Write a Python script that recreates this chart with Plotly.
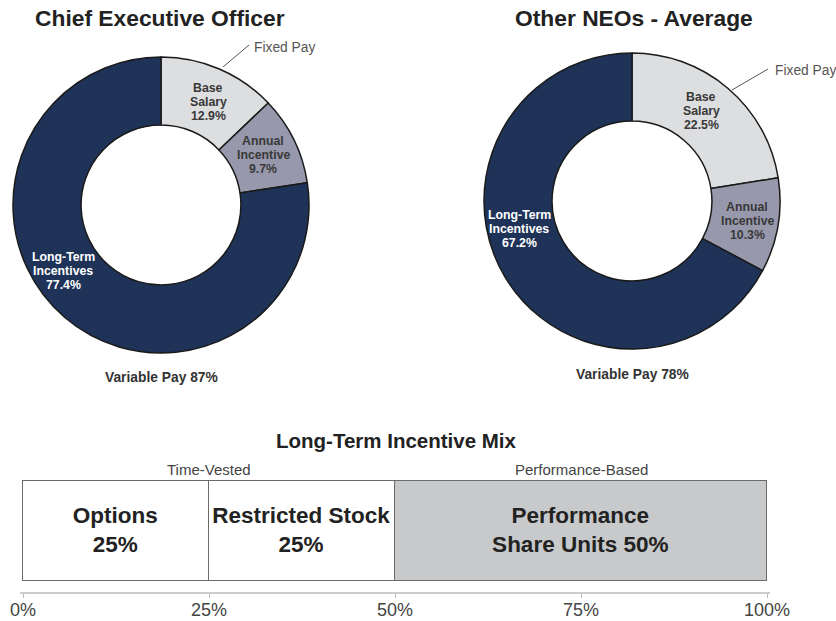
import plotly.graph_objects as go

# ---------------- data ----------------
pie_labels = ["Base Salary", "Annual Incentive", "Long-Term Incentives"]
pie_label_lines = [["Base", "Salary"], ["Annual", "Incentive"], ["Long-Term", "Incentives"]]
ceo_values = [12.9, 9.7, 77.4]
neo_values = [22.5, 10.3, 67.2]
ceo_variable_pay = 87
neo_variable_pay = 78
chart_titles = ["Chief Executive Officer", "Other NEOs - Average"]

lti_labels = ["Options", "Restricted Stock", "Performance<br>Share Units"]
lti_values = [25, 25, 50]
lti_groups = ["Time-Vested", "Performance-Based"]
axis_ticks = [0, 25, 50, 75, 100]

# ---------------- styling ----------------
# body margin is removed in the page (post_script), so the figure fills the window
OFF = 0
W, H = 836, 621
FONT = "Liberation Sans, Arial, Helvetica, sans-serif"
NAVY = "rgb(31,51,89)"
LIGHT = "rgb(221,222,224)"
MID = "rgb(152,152,173)"
PIE_COLORS = [LIGHT, MID, NAVY]
TEXT_COLORS = ["#383838", "#383838", "#ffffff"]


def px(x):
    """screen pixel x -> paper fraction"""
    return (x - OFF) / W


def py(y):
    """screen pixel y -> paper fraction"""
    return 1 - (y - OFF) / H


def note(text, x, y, size, color, bold=False, xanchor="center", xref="paper"):
    return dict(text=f"<b>{text}</b>" if bold else text,
                x=(px(x) if xref == "paper" else x), y=py(y), xref=xref, yref="paper",
                showarrow=False, xanchor=xanchor, yanchor="middle", align="center",
                font=dict(family=FONT, size=size, color=color))


fig = go.Figure()

pie_specs = [
    dict(values=ceo_values, cx=161, cy=205, r=148),
    dict(values=neo_values, cx=632, cy=201, r=148),
]
for spec in pie_specs:
    fig.add_trace(go.Pie(
        labels=pie_labels,
        values=spec["values"],
        hole=0.54,
        sort=False,
        direction="clockwise",
        rotation=0,
        textinfo="none",
        marker=dict(colors=PIE_COLORS, line=dict(color="#1a1a1a", width=1.5)),
        domain=dict(x=[px(spec["cx"] - spec["r"]), px(spec["cx"] + spec["r"])],
                    y=[py(spec["cy"] + spec["r"]), py(spec["cy"] - spec["r"])]),
        showlegend=False,
        automargin=False,
        hoverinfo="label+percent",
    ))

# Long-term incentive mix bar
bar_fills = ["white", "white", "rgb(200,201,203)"]
for lab, val, fill in zip(lti_labels, lti_values, bar_fills):
    fig.add_trace(go.Bar(
        x=[val], y=["LTI"], orientation="h",
        marker=dict(color=fill, line=dict(color="#6a6a6a", width=1.5)),
        text=[f"{lab}<br>{val}%" if "<br>" not in lab else f"{lab} {val}%"],
        textposition="inside", insidetextanchor="middle", constraintext="none",
        textfont=dict(family=FONT, size=22.5, color="#222222", weight="bold"),
        showlegend=False, hoverinfo="x",
    ))

annotations = []
# pie titles
for title, x in zip(chart_titles, [160, 634]):
    annotations.append(note(title, x, 18, 22.8, "#222222", bold=True))

# slice labels (one annotation per line, 14px line spacing)
label_pos = [
    [(208, 102), (263, 155), (63, 271)],
    [(701, 111), (747, 221), (519, 229)],
]
LINE = 14
for vals, positions in zip([ceo_values, neo_values], label_pos):
    for i, (lines, v) in enumerate(zip(pie_label_lines, vals)):
        x, y = positions[i]
        rows = lines + [f"{v}%"]
        n = len(rows)
        for k, row in enumerate(rows):
            annotations.append(note(row, x, y + (k - (n - 1) / 2) * LINE, 12.3, TEXT_COLORS[i], bold=True))

# Fixed pay callouts
annotations.append(note("Fixed Pay", 252, 47, 13.8, "#555555", xanchor="left"))
annotations.append(note("Fixed Pay", 773, 70, 13.8, "#555555", xanchor="left"))

# Variable pay
for v, x, y in [(ceo_variable_pay, 161, 377), (neo_variable_pay, 632, 374)]:
    annotations.append(note(f"Variable Pay {v}%", x, y, 13.8, "#333333", bold=True))

# LTI title and groups
annotations.append(note("Long-Term Incentive Mix", 396, 440, 20.5, "#222222", bold=True))
for g, xc in zip(lti_groups, [25, 75]):
    annotations.append(note(g, xc, 469, 15, "#444444", xref="x"))

shapes = [
    dict(type="line", xref="paper", yref="paper", x0=px(223), y0=py(67), x1=px(249), y1=py(45),
         line=dict(color="#555555", width=1)),
    dict(type="line", xref="paper", yref="paper", x0=px(732), y0=py(90), x1=px(768), y1=py(69),
         line=dict(color="#555555", width=1)),
]

# x axis: 0..100 maps to pixels 23..767; pad a little so bar outlines are not clipped
X0, X1 = 23, 767
ppu = (X1 - X0) / 100.0
pad = 0.4
fig.update_layout(
    width=W, height=H,
    margin=dict(l=0, r=0, t=0, b=0, autoexpand=False),
    paper_bgcolor="white", plot_bgcolor="white",
    barmode="stack", bargap=0,
    annotations=annotations, shapes=shapes,
    font=dict(family=FONT),
    xaxis=dict(domain=[px(X0 - pad * ppu), px(X1 + pad * ppu)], range=[-pad, 100 + pad],
               anchor="free", position=py(593), automargin=False,
               tickvals=axis_ticks, ticktext=[f"{t}%" for t in axis_ticks],
               ticks="outside", ticklen=4, tickcolor="#bbbbbb", showline=True, linecolor="#cccccc",
               linewidth=1.5, showgrid=False, zeroline=False, ticklabelstandoff=-3,
               tickfont=dict(family=FONT, size=18, color="#444444"), fixedrange=True),
    yaxis=dict(domain=[py(583), py(479)], range=[-0.52, 0.52], visible=False, showgrid=False,
               zeroline=False, fixedrange=True, automargin=False),
)

fig.write_html("out.html",
               config={"displayModeBar": False},
               post_script="document.body.style.margin='0px';document.body.style.overflow='hidden';")
